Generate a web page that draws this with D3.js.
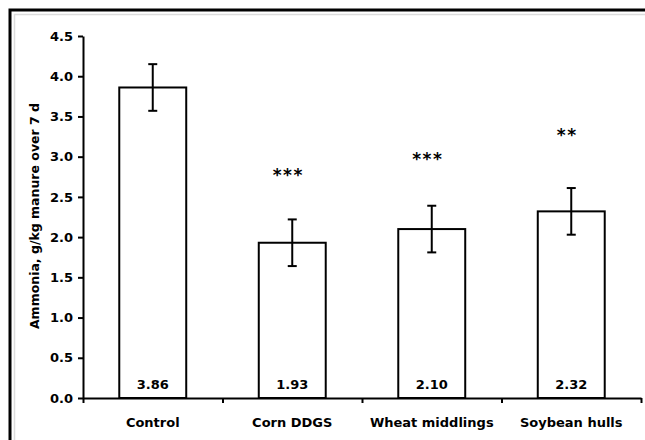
<!DOCTYPE html>
<html>
<head>
<meta charset="utf-8">
<script src="https://cdn.jsdelivr.net/npm/d3@7"></script>
<style>
  html, body { margin: 0; padding: 0; background: #fff; }
  svg { display: block; }
  text { font-family: "DejaVu Sans", Verdana, sans-serif; font-weight: bold; fill: #000; }
</style>
</head>
<body>
<svg id="chart" width="645" height="440"></svg>
<script>
const categories = ["Control", "Corn DDGS", "Wheat middlings", "Soybean hulls"];
const means = [3.86, 1.93, 2.10, 2.32];
const errors = [0.29, 0.29, 0.29, 0.29];
const sigMarks = ["", "***", "***", "**"];
const sigLevels = [null, 2.80, 2.99, 3.30];
const yTicks = [0, 0.5, 1.0, 1.5, 2.0, 2.5, 3.0, 3.5, 4.0, 4.5];
const yTitle = "Ammonia, g/kg manure over 7 d";

const svg = d3.select("#chart");

// frame
svg.append("path").attr("d", "M14.5,440V14.5H645").attr("fill", "none")
  .attr("stroke", "#dcdcdc").attr("stroke-width", 1.5);
svg.append("path").attr("d", "M10,440V10H645").attr("fill", "none")
  .attr("stroke", "#000").attr("stroke-width", 3);

const pLeft = 83, pRight = 641, pTop = 36, pBottom = 398;

const y = d3.scaleLinear().domain([0, 4.5]).range([pBottom, pTop]);
const x = d3.scaleBand().domain(categories).range([pLeft, pRight]).padding(0);
const xEdges = d3.scaleLinear().domain([0, categories.length]).range([pLeft, pRight]);
const barW = x.bandwidth() * 0.48;

// y axis
const yAxis = svg.append("g").attr("transform", `translate(${pLeft},0)`)
  .call(d3.axisLeft(y).tickValues(yTicks).tickFormat(d3.format(".1f")).tickSize(5).tickSizeOuter(0).tickPadding(5));
yAxis.select(".domain").attr("stroke", "#000").attr("stroke-width", 2);
yAxis.selectAll(".tick line").attr("stroke", "#000").attr("stroke-width", 2);
yAxis.selectAll(".tick text").attr("font-size", 13).attr("font-family", "DejaVu Sans").attr("font-weight", "bold");

// bars
const idx = d3.range(categories.length);
svg.append("g").selectAll("rect").data(idx).join("rect")
  .attr("x", i => x(categories[i]) + x.bandwidth() / 2 - barW / 2)
  .attr("y", i => y(means[i]))
  .attr("width", barW)
  .attr("height", i => y(0) - y(means[i]))
  .attr("fill", "#fff").attr("stroke", "#000").attr("stroke-width", 2);

// x axis (ticks between categories)
const xAxis = svg.append("g").attr("transform", `translate(0,${pBottom})`)
  .call(d3.axisBottom(xEdges).tickValues(d3.range(categories.length + 1)).tickFormat("").tickSize(5).tickSizeOuter(0));
xAxis.select(".domain").attr("stroke", "#000").attr("stroke-width", 2);
xAxis.selectAll(".tick line").attr("stroke", "#000").attr("stroke-width", 2);

// category labels
svg.append("g").selectAll("text").data(idx).join("text")
  .attr("x", i => x(categories[i]) + x.bandwidth() / 2)
  .attr("y", 427)
  .attr("text-anchor", "middle").attr("font-size", 13)
  .text(i => categories[i]);

// error bars
const eb = svg.append("g").attr("stroke", "#000").attr("stroke-width", 2);
idx.forEach(i => {
  const cx = x(categories[i]) + x.bandwidth() / 2;
  const yt = y(means[i] + errors[i]), yb = y(means[i] - errors[i]);
  eb.append("line").attr("x1", cx).attr("x2", cx).attr("y1", yt).attr("y2", yb);
  eb.append("line").attr("x1", cx - 4.5).attr("x2", cx + 4.5).attr("y1", yt).attr("y2", yt);
  eb.append("line").attr("x1", cx - 4.5).attr("x2", cx + 4.5).attr("y1", yb).attr("y2", yb);
});

// value labels inside bars
svg.append("g").selectAll("text").data(idx).join("text")
  .attr("x", i => x(categories[i]) + x.bandwidth() / 2)
  .attr("y", 389)
  .attr("text-anchor", "middle").attr("font-size", 13)
  .text(i => means[i].toFixed(2));

// significance marks
svg.append("g").selectAll("text").data(idx.filter(i => sigMarks[i])).join("text")
  .attr("x", i => x(categories[i]) + x.bandwidth() / 2 - 4)
  .attr("y", i => y(sigLevels[i]) + 8)
  .attr("text-anchor", "middle").attr("font-size", 17).attr("letter-spacing", 1.5)
  .text(i => sigMarks[i]);

// y title
svg.append("text")
  .attr("transform", `translate(39,216) rotate(-90)`)
  .attr("text-anchor", "middle").attr("font-size", 12.5)
  .text(yTitle);
</script>
</body>
</html>
